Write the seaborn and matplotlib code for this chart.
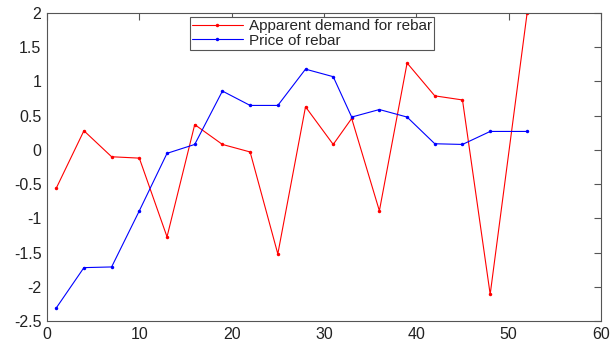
import numpy as np
import pandas as pd
import seaborn as sns
import matplotlib.pyplot as plt

x = [1, 4, 7, 10, 13, 16, 19, 22, 25, 28, 31, 33, 36, 39, 42, 45, 48, 52]
demand = [-0.56, 0.28, -0.10, -0.12, -1.27, 0.37, 0.08, -0.03, -1.52, 0.63,
          0.08, 0.46, -0.89, 1.27, 0.79, 0.73, -2.11, 2.0]
price = [-2.31, -1.72, -1.71, -0.89, -0.05, 0.08, 0.86, 0.65, 0.65, 1.18,
         1.07, 0.48, 0.59, 0.48, 0.09, 0.08, 0.27, 0.27]

sns.set_style("white")
plt.rcParams['font.family'] = ['Liberation Sans', 'DejaVu Sans']

fig = plt.figure(figsize=(6.11, 3.43), dpi=100)
ax = fig.add_axes([0.0769, 0.0641, 0.9067, 0.8979])

sns.lineplot(x=x, y=demand, color='red', marker='.', markersize=5, linewidth=0.8,
             markeredgewidth=0, label='Apparent demand for rebar', ax=ax)
sns.lineplot(x=x, y=price, color='blue', marker='.', markersize=5, linewidth=0.8,
             markeredgewidth=0, label='Price of rebar', ax=ax)

ax.set_xlim(0, 60)
ax.set_ylim(-2.5, 2)
ax.set_xticks(range(0, 61, 10))
ax.set_yticks(np.arange(-2.5, 2.01, 0.5))
ax.set_yticklabels(['-2.5', '-2', '-1.5', '-1', '-0.5', '0', '0.5', '1', '1.5', '2'])
ax.tick_params(direction='in', top=True, right=True, length=5, width=0.8,
               color='#555555', labelsize=11.5, labelcolor='#222222', pad=4)
for s in ax.spines.values():
    s.set_color('#555555')
    s.set_linewidth(0.8)

leg = ax.legend(loc='upper left', bbox_to_anchor=(0.258, 0.988), borderaxespad=0,
                fancybox=False, edgecolor='#555555', framealpha=1, fontsize=11,
                handlelength=3.3, labelspacing=0.05, borderpad=0.15, handletextpad=0.4)
leg.get_frame().set_linewidth(0.8)

fig.savefig('out.png', dpi=100)
